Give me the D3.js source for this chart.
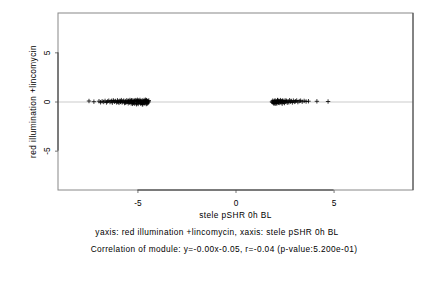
<!DOCTYPE html>
<html><head><meta charset="utf-8">
<script src="https://cdn.jsdelivr.net/npm/d3@7"></script>
<style>body{margin:0;background:#fff}svg{display:block;font-family:"Liberation Sans",Arial,sans-serif}</style>
</head><body><svg id="c" width="432" height="288"></svg>
<script>
const xTicks = [-5, 0, 5];
const yTicks = [-5, 0, 5];
const xDomain = [-9.05, 9.05];
const yDomain = [-9, 9];
const leftX = [-7.47,-7.22,-6.96,-6.88,-6.80,-6.72,-6.65,-6.58,-6.52,-6.46,-6.40,-6.34,-6.28,-6.22,-6.17,-6.12,-6.07,-6.02,-5.98,-5.94,-5.90,-5.86,-5.82,-5.78,-5.74,-5.70,-5.66,-5.62,-5.58,-5.54,-5.50,-5.47,-5.44,-5.41,-5.38,-5.35,-5.32,-5.29,-5.26,-5.23,-5.20,-5.17,-5.14,-5.11,-5.08,-5.05,-5.02,-4.99,-4.96,-4.93,-4.90,-4.87,-4.84,-4.81,-4.78,-4.75,-4.72,-4.69,-4.66,-4.63,-4.60,-4.57,-4.54,-4.51,-4.48,-4.45,-4.42,-5.45,-5.15,-4.95,-4.85,-4.70,-4.58,-4.47,-5.60,-5.30,-5.00,-4.80,-4.62,-4.52,-4.44,-6.00,-6.30,-5.85,-5.25,-5.05,-4.75,-4.55];
const leftY = [0.05,-0.02,0.03,-0.08,0.02,-0.05,0.06,-0.10,0.01,0.08,-0.06,0.03,-0.12,0.10,-0.02,0.05,-0.09,0.12,0.00,-0.14,0.07,-0.04,0.14,-0.10,0.02,0.09,-0.16,0.04,-0.07,0.13,-0.02,-0.18,0.08,-0.11,0.15,0.01,-0.20,0.06,-0.08,0.11,-0.15,0.03,-0.22,0.14,-0.05,0.09,-0.18,0.02,-0.25,0.12,-0.09,0.16,-0.21,0.05,-0.13,0.10,-0.27,0.01,0.15,-0.19,0.07,-0.10,0.13,-0.23,0.04,-0.06,0.10,0.00,0.07,-0.03,0.02,-0.08,0.18,-0.15,-0.12,0.12,0.17,-0.17,0.00,0.08,-0.02,-0.05,0.08,0.01,-0.24,-0.28,-0.30,-0.26];
const rightX = [1.86,1.90,1.93,1.96,1.99,2.02,2.05,2.08,2.11,2.14,2.17,2.20,2.23,2.26,2.29,2.32,2.35,2.38,2.41,2.44,2.47,2.50,2.53,2.56,2.60,2.64,2.68,2.72,2.76,2.80,2.85,2.90,2.95,3.00,3.06,3.12,3.18,3.25,3.32,3.40,3.50,3.60,3.72,4.15,4.72,1.88,2.00,2.10,2.20,2.30,2.40,1.95,2.05,2.15];
const rightY = [-0.03,0.08,-0.12,0.03,-0.18,0.10,-0.07,0.01,-0.20,0.12,-0.04,0.06,-0.15,0.02,0.14,-0.10,0.04,-0.22,0.09,-0.06,0.00,-0.16,0.11,-0.03,0.07,-0.12,0.03,-0.08,0.13,-0.02,0.05,-0.10,0.09,-0.04,0.02,0.10,-0.06,0.04,0.08,-0.02,0.06,0.00,0.03,0.02,0.00,-0.08,0.05,-0.10,-0.13,0.00,0.05,-0.20,-0.22,0.15];
const fit = {slope: -0.00, intercept: -0.05};
const xLabel = "stele pSHR 0h BL";
const yLabel = "red illumination +lincomycin";
const caption1 = "yaxis: red illumination +lincomycin, xaxis: stele pSHR 0h BL";
const caption2 = "Correlation of module: y=-0.00x-0.05, r=-0.04 (p-value:5.200e-01)";

const svg = d3.select("#c");
const L = 58, R = 413, T = 13, B = 190;
const x = d3.scaleLinear().domain(xDomain).range([L, R]);
const y = d3.scaleLinear().domain(yDomain).range([B, T]);
const FS = 8.3, LS = 0.4;

svg.append("defs").append("clipPath").attr("id","clip").append("rect")
  .attr("x", L).attr("y", T).attr("width", R - L).attr("height", B - T);

svg.append("line").attr("clip-path","url(#clip)")
  .attr("x1", x(xDomain[0])).attr("x2", x(xDomain[1]))
  .attr("y1", y(fit.slope * xDomain[0] + fit.intercept))
  .attr("y2", y(fit.slope * xDomain[1] + fit.intercept))
  .attr("stroke", "#dcdcdc").attr("stroke-width", 1.5);

const pts = leftX.map((v,i)=>[v,leftY[i]]).concat(rightX.map((v,i)=>[v,rightY[i]]));
const s = 2.2;
const g = svg.append("g").attr("stroke","#000").attr("stroke-width",0.8);
pts.forEach(([px,py])=>{
  const cx = x(px), cy = y(py);
  g.append("path").attr("d", `M${cx-s},${cy}H${cx+s}M${cx},${cy-s}V${cy+s}`);
});

svg.append("rect").attr("x", L).attr("y", T).attr("width", R - L).attr("height", B - T)
  .attr("fill","none").attr("stroke","#888").attr("stroke-width",1);
svg.append("line").attr("x1",R).attr("x2",R).attr("y1",T).attr("y2",B).attr("stroke","#444");

const xa = svg.append("g").attr("transform",`translate(0,${B})`)
  .call(d3.axisBottom(x).tickValues(xTicks).tickSize(3).tickPadding(7).tickFormat(d=>String(d)));
const ya = svg.append("g").attr("transform",`translate(${L},0)`)
  .call(d3.axisLeft(y).tickValues(yTicks).tickSize(3).tickPadding(6).tickFormat(d=>String(d)));
xa.select(".domain").remove();
ya.select(".domain").remove();
xa.append("line").attr("x1", x(xTicks[0])).attr("x2", x(xTicks[xTicks.length-1])).attr("stroke","#333");
ya.append("line").attr("y1", y(yTicks[0])).attr("y2", y(yTicks[yTicks.length-1])).attr("stroke","#333");
[xa, ya].forEach(a=>{
  a.selectAll(".tick line").attr("stroke","#777");
  a.selectAll("text").attr("font-size",FS).attr("fill","#000").attr("font-family","Liberation Sans, Arial, sans-serif");
});
ya.selectAll(".tick text").attr("x", null).attr("dy","0.35em").attr("text-anchor","middle")
  .attr("transform", "translate(-11,0) rotate(-90)");

svg.append("text").attr("x", (L+R)/2).attr("y", 218).attr("text-anchor","middle")
  .attr("font-size", FS).attr("letter-spacing", LS).text(xLabel);
svg.append("text").attr("transform", `translate(36,${(T+B)/2}) rotate(-90)`).attr("text-anchor","middle")
  .attr("font-size", FS).attr("letter-spacing", LS).text(yLabel);
svg.append("text").attr("x", 217).attr("y", 235).attr("text-anchor","middle")
  .attr("font-size", FS).attr("letter-spacing", LS).text(caption1);
svg.append("text").attr("x", 224).attr("y", 252).attr("text-anchor","middle")
  .attr("font-size", FS).attr("letter-spacing", LS).text(caption2);
</script></body></html>
